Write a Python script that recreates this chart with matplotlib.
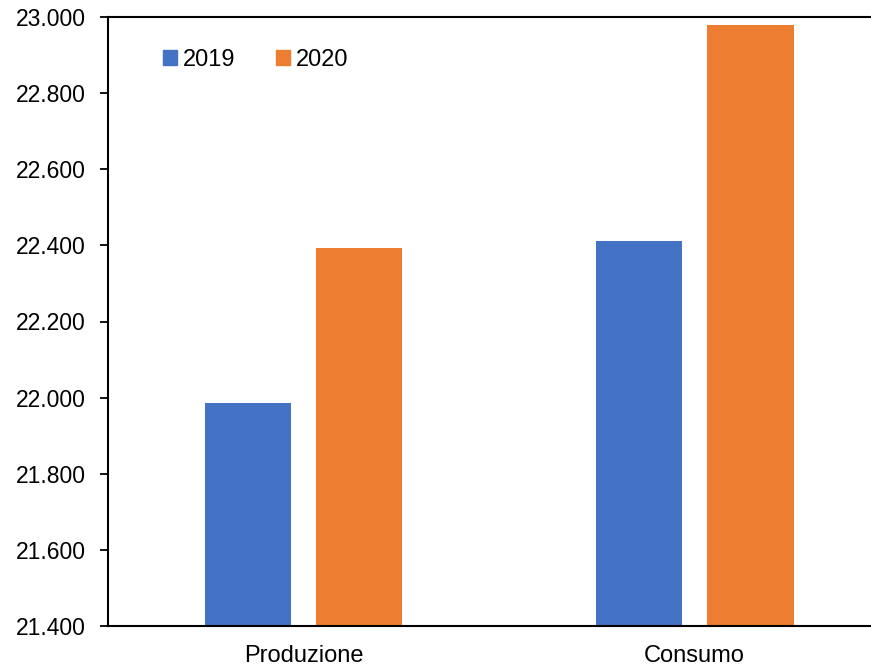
import matplotlib.pyplot as plt
import numpy as np
from matplotlib.patches import Patch

# Data
categories = ['Produzione', 'Consumo']
years = ['2019', '2020']
values_2019 = [21985, 22412]
values_2020 = [22393, 22979]
colors = ['#4472C4', '#ED7D31']

plt.rcParams['font.family'] = ['Liberation Sans', 'DejaVu Sans']

fig = plt.figure(figsize=(8.71, 6.66), dpi=100)
ax = fig.add_axes([108 / 871, 40 / 666, 763 / 871, 609 / 666])

x = np.arange(len(categories))
width = 0.222
offset = 0.142
ax.bar(x - offset, values_2019, width, color=colors[0], label=years[0], zorder=2)
ax.bar(x + offset, values_2020, width, color=colors[1], label=years[1], zorder=2)

ax.set_ylim(21400, 23000)
ax.set_xlim(-0.5, 1.451)
yticks = np.arange(21400, 23001, 200)
ax.set_yticks(yticks)
ax.set_yticklabels([f"{v:,.0f}".replace(",", ".") for v in yticks], fontsize=16.5)
ax.set_xticks(x)
ax.set_xticklabels(categories, fontsize=17)

ax.tick_params(axis='y', length=6, width=1.3, pad=10, direction='out')
ax.tick_params(axis='x', length=0, pad=13.5)

for side in ['left', 'bottom', 'top']:
    ax.spines[side].set_linewidth(1.5)
    ax.spines[side].set_color('black')
ax.spines['right'].set_visible(False)

handles = [Patch(color=colors[0]), Patch(color=colors[1])]
ax.legend(handles, years, loc='center left', bbox_to_anchor=(0.072, 0.93),
          ncol=2, frameon=False, fontsize=17, borderpad=0, borderaxespad=0,
          handlelength=0.6, handleheight=0.6, handletextpad=0.25,
          columnspacing=1.7)

fig.savefig('out.png', dpi=100)
